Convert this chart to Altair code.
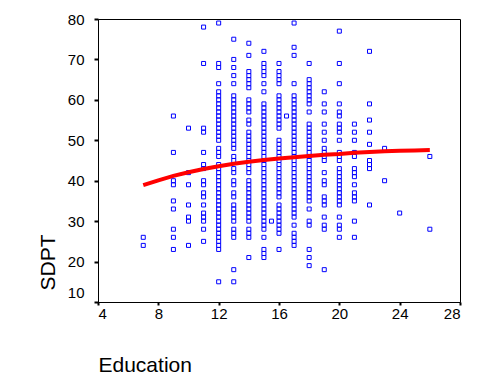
import altair as alt
import pandas as pd

# Observed points per education level (SDPT values)
edu_7 = [26, 24]
edu_9 = [56, 47, 40, 39, 35, 33, 28, 26, 23]
edu_10 = [53, 42, 39, 34, 31, 30, 24]
edu_11 = [78, 69, 53, 52, 47, 44, 43, 40, 39, 37, 36, 34, 32, 31, 30, 28, 25]
edu_12 = [79, 69, 68, 64, 62, 61, 60, 59, 58, 57, 56, 55, 54, 53, 52, 51, 50, 48, 47, 46,
          44, 43, 42, 41, 40, 39, 38, 37, 36, 35, 34, 33, 32, 31, 30, 29, 28, 27, 26, 25,
          24, 23, 15]
edu_13 = [75, 70, 68, 66, 64, 61, 60, 59, 58, 57, 56, 55, 54, 53, 52, 51, 50, 49, 48, 46,
          45, 43, 42, 40, 39, 37, 36, 34, 33, 32, 31, 30, 28, 27, 26, 18, 15]
edu_14 = [74, 71, 67, 66, 65, 64, 63, 60, 59, 58, 57, 55, 54, 52, 51, 50, 49, 48, 47, 46,
          45, 44, 43, 42, 40, 39, 38, 37, 36, 35, 34, 33, 32, 31, 30, 28, 27, 26, 21]
edu_15 = [72, 69, 68, 67, 66, 64, 62, 59, 58, 57, 56, 55, 54, 53, 52, 51, 50, 49, 48, 47,
          46, 45, 44, 43, 42, 41, 40, 39, 38, 37, 36, 35, 34, 33, 32, 31, 30, 29, 28, 26,
          23, 22, 21]
edu_15_5 = [30]
edu_16 = [69, 67, 66, 65, 64, 61, 60, 59, 58, 57, 56, 55, 54, 53, 50, 49, 48, 47, 46, 45,
          44, 43, 42, 41, 40, 39, 38, 37, 36, 34, 33, 32, 31, 30, 29, 28, 27, 23]
edu_16_5 = [56]
edu_17 = [79, 73, 71, 64, 61, 60, 59, 58, 57, 56, 55, 54, 53, 52, 51, 50, 49, 48, 47, 46,
          45, 44, 43, 42, 41, 40, 39, 38, 37, 36, 35, 34, 33, 32, 31, 29, 27, 26, 25, 24]
edu_18 = [69, 65, 64, 63, 62, 61, 60, 59, 57, 54, 53, 52, 51, 50, 49, 48, 47, 46, 45, 44,
          43, 42, 41, 40, 39, 38, 37, 36, 35, 33, 30, 29, 23, 21, 19]
edu_19 = [62, 59, 57, 54, 52, 50, 48, 47, 46, 45, 42, 40, 39, 36, 35, 34, 31, 29, 28, 18]
edu_20 = [77, 69, 64, 59, 57, 56, 54, 53, 52, 50, 47, 46, 45, 43, 42, 41, 40, 39, 38, 37,
          36, 35, 34, 31, 29, 28, 26]
edu_21 = [54, 52, 50, 47, 46, 43, 42, 41, 39, 37, 36, 35, 30, 26]
edu_22 = [72, 59, 55, 52, 49, 45, 44, 43, 34]
edu_23 = [48, 40]
edu_24 = [32]
edu_26 = [46, 28]

columns = {
    7: edu_7, 9: edu_9, 10: edu_10, 11: edu_11, 12: edu_12, 13: edu_13, 14: edu_14,
    15: edu_15, 15.5: edu_15_5, 16: edu_16, 16.5: edu_16_5, 17: edu_17, 18: edu_18,
    19: edu_19, 20: edu_20, 21: edu_21, 22: edu_22, 23: edu_23, 24: edu_24, 26: edu_26,
}

# Fitted curve
fit_edu = [7, 8, 9, 10, 11, 12, 13, 14, 15, 16, 17, 18, 19, 20, 21, 22, 23, 24, 25, 26]
fit_sdpt = [38.9, 40.1, 41.2, 42.1, 42.9, 43.6, 44.2, 44.7, 45.1, 45.5, 45.8, 46.1,
            46.4, 46.6, 46.9, 47.1, 47.3, 47.4, 47.5, 47.6]

x_ticks = [4, 8, 12, 16, 20, 24, 28]
y_ticks = [10, 20, 30, 40, 50, 60, 70, 80]

rows = []
for e, vals in columns.items():
    for v in vals:
        rows.append({"Education": e, "SDPT": v})
pts = pd.DataFrame(rows)
fit = pd.DataFrame({"Education": fit_edu, "SDPT": fit_sdpt})

xscale = alt.Scale(domain=[4, 28], nice=False, zero=False)
yscale = alt.Scale(domain=[10, 80], nice=False, zero=False)

xaxis = alt.Axis(
    values=x_ticks, title="Education", grid=False,
    labelFont="Liberation Sans", labelFontSize=15, labelColor="black",
    tickColor="black", tickSize=3, tickWidth=2, labelPadding=1,
    domainColor="black", domainWidth=1,
    titleFont="Liberation Sans", titleFontSize=21, titleFontWeight="normal",
    titleColor="black", titleAnchor="start", titleAlign="left",
    titleX=0, titleY=69, titleBaseline="alphabetic",
)
yaxis = alt.Axis(
    values=y_ticks, title="SDPT", grid=False,
    labelFont="Liberation Sans", labelFontSize=15, labelColor="black",
    tickColor="black", tickSize=4, tickWidth=2, labelPadding=10,
    labelOffset={"condition": {"test": "datum.value === 10", "value": -10}, "value": 0},
    domainColor="black", domainWidth=1,
    titleFont="Liberation Sans", titleFontSize=21, titleFontWeight="normal",
    titleColor="black", titleAngle=270, titleAlign="center",
    titleX=-44, titleY=243, titleBaseline="alphabetic",
)

points = alt.Chart(pts).mark_square(
    filled=False, size=16, strokeWidth=1, color="#0000ff", opacity=1
).encode(
    x=alt.X("Education:Q", scale=xscale, axis=xaxis),
    y=alt.Y("SDPT:Q", scale=yscale, axis=yaxis),
)

line = alt.Chart(fit).mark_line(color="#ff0000", strokeWidth=4).encode(
    x=alt.X("Education:Q", scale=xscale),
    y=alt.Y("SDPT:Q", scale=yscale),
)

chart = alt.layer(points, line).properties(
    width=362, height=283,
    autosize=alt.AutoSizeParams(type="none"),
    padding={"left": 90, "top": 11, "right": 10, "bottom": 72},
    background="white",
).configure_view(stroke="black", strokeWidth=1)

chart.save("out.html", embed_options={"renderer": "svg", "actions": False})
